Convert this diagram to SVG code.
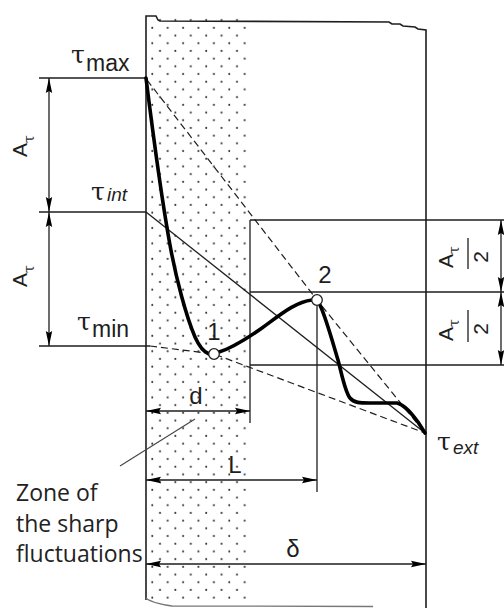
<svg xmlns="http://www.w3.org/2000/svg" width="504" height="608" viewBox="0 0 504 608">
<style>
  .ln{fill:none;stroke:#1e1e1e;stroke-width:1.3}
  .wall{fill:none;stroke:#1e1e1e;stroke-width:1.6}
  .dash{fill:none;stroke:#1e1e1e;stroke-width:1.2;stroke-dasharray:7 4}
  .thick{fill:none;stroke:#000;stroke-width:3.6;stroke-linejoin:round;stroke-linecap:round}
  .dim{fill:none;stroke:#1e1e1e;stroke-width:1.3;marker-start:url(#arr);marker-end:url(#arr)}
  .tau{font-family:"DejaVu Serif",serif;font-size:25px;fill:#1e1e1e}
  .stau{font-family:"DejaVu Serif",serif;font-size:14px}
  .sub{font-family:"Liberation Sans",sans-serif;font-size:23px;fill:#1e1e1e}
  .isub{font-family:"Liberation Sans",sans-serif;font-style:italic;font-size:19px;fill:#1e1e1e}
  .lab{font-family:"Liberation Sans",sans-serif;font-size:24px;fill:#1e1e1e;text-anchor:middle}
  .rot{font-family:"Liberation Sans",sans-serif;font-size:21px;fill:#1e1e1e}
  .zone{font-family:"Open Sans","Liberation Sans",sans-serif;font-size:23px;fill:#222}
  .pt{fill:#fff;stroke:#1e1e1e;stroke-width:1.3}
</style>
<defs>
  <pattern id="dots" patternUnits="userSpaceOnUse" x="0" y="0" width="15.4" height="15.4">
    <circle cx="13.7" cy="12.4" r="1" fill="#333"/>
    <circle cx="6.0" cy="4.7" r="1" fill="#333"/>
  </pattern>
  <marker id="arr" viewBox="0 0 16 8" refX="16" refY="4" markerWidth="16" markerHeight="8" markerUnits="userSpaceOnUse" orient="auto-start-reverse">
    <path d="M16,4 L1,0.8 L3,4 L1,7.2 Z" fill="#000"/>
  </marker>
</defs>
<rect width="504" height="608" fill="#fff"/>

<g id="plate">
  <rect x="147" y="18" width="102" height="582" fill="url(#dots)"/>
  <path class="wall" d="M146,600 L146,16 L156,16 L158,20 L160,21 L389,22 L392,24 L400,24 L403,26 L415,27 L418,29 L426,30 L426,608"/>
  <path d="M146,598 C150,602 158,604 172,606 L373,606.5" fill="none" stroke="#777" stroke-width="1.3"/>
</g>

<g id="connectors">
  <line class="ln" x1="39" y1="78" x2="146" y2="78"/>
  <line class="ln" x1="39" y1="212" x2="146" y2="212"/>
  <line class="ln" x1="39" y1="346" x2="150" y2="346"/>
  <line class="ln" x1="250" y1="220" x2="504" y2="220"/>
  <line class="ln" x1="250" y1="292" x2="504" y2="292"/>
  <line class="ln" x1="250" y1="365" x2="504" y2="365"/>
  <line class="ln" x1="250" y1="220" x2="250" y2="423"/>
  <line class="ln" x1="317" y1="306" x2="317" y2="492"/>
  <line class="ln" x1="146" y1="212" x2="425" y2="433" stroke-width="1.1"/>
  <polyline class="dash" points="147,80 317,300 425,433"/>
  <polyline class="dash" points="150,346 214,354 425,433"/>
  <line class="dim" x1="49" y1="78" x2="49" y2="212"/>
  <line class="dim" x1="49" y1="212" x2="49" y2="346"/>
  <line class="dim" x1="501" y1="220" x2="501" y2="292"/>
  <line class="dim" x1="501" y1="292" x2="501" y2="365"/>
  <line class="dim" x1="146" y1="411" x2="250" y2="411"/>
  <line class="dim" x1="146" y1="480" x2="317" y2="480"/>
  <line class="dim" x1="146" y1="564" x2="426" y2="564"/>
  <line x1="120" y1="466" x2="195" y2="419" stroke="#444" stroke-width="1.1"/>
  <line class="ln" x1="468" y1="238" x2="468" y2="269"/>
  <line class="ln" x1="468" y1="310" x2="468" y2="342"/>
</g>

<g id="curve">
  <path class="thick" d="M146,78 C150,110 160,190 170,245 C176,278 186,316 195,337 C199,346 204,352 209,354"/>
  <path class="thick" d="M219,352 C232,348 245,340 262,328 C280,315 295,302 312,300"/>
  <path class="thick" d="M320,305 C326,318 332,340 338,360 C342,375 345,392 350,398 C354,403 360,403 370,403 L397,403 C405,405 412,414 418,422 L425,433"/>
</g>

<g id="point1">
  <circle class="pt" cx="214" cy="354" r="5.3"/>
  <text class="lab" x="214" y="340">1</text>
</g>
<g id="point2">
  <circle class="pt" cx="317" cy="300" r="5.3"/>
  <text class="lab" x="325" y="283" font-size="26">2</text>
</g>

<g id="labels">
  <text class="tau" x="71" y="63">τ</text><text class="sub" x="86" y="71">max</text>
  <text class="tau" x="91" y="200">τ</text><text class="isub" x="107" y="201">int</text>
  <text class="tau" x="77" y="330">τ</text><text class="sub" x="92" y="337">min</text>
  <text class="tau" x="437" y="450">τ</text><text class="isub" x="453" y="454" font-size="20">ext</text>
  <text class="lab" x="196" y="404" font-size="23">d</text>
  <text class="lab" x="235" y="473" font-size="26">L</text>
  <text class="lab" x="293" y="557" font-size="28">δ</text>
  <text class="rot" transform="translate(27,157) rotate(-90)">A<tspan class="stau" dy="7">τ</tspan></text>
  <text class="rot" transform="translate(27,287) rotate(-90)">A<tspan class="stau" dy="7">τ</tspan></text>
  <text class="rot" transform="translate(453,268) rotate(-90)">A<tspan class="stau" dy="6">τ</tspan></text>
  <text class="rot" transform="translate(488,257) rotate(-90)" text-anchor="middle">2</text>
  <text class="rot" transform="translate(453,341) rotate(-90)">A<tspan class="stau" dy="6">τ</tspan></text>
  <text class="rot" transform="translate(488,329) rotate(-90)" text-anchor="middle">2</text>
</g>

<g id="zone-label">
  <text class="zone" x="16" y="501">Zone of</text>
  <text class="zone" x="16" y="532">the sharp</text>
  <text class="zone" x="16" y="562">fluctuations</text>
</g>
</svg>
